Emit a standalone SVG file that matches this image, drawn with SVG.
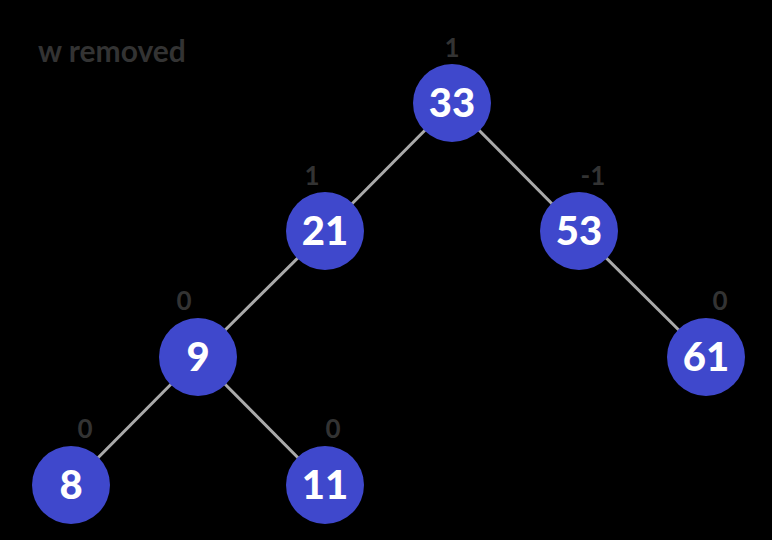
<svg xmlns="http://www.w3.org/2000/svg" width="772" height="540" viewBox="0 0 772 540">
<style>
.n{fill:#3f48cc}
.t{fill:#fff;font-family:Lato,"Liberation Sans",sans-serif;font-weight:900;font-size:40px;text-anchor:middle}
.b{fill:#333;font-family:Lato,"Liberation Sans",sans-serif;font-weight:700;font-size:26px;text-anchor:middle}
.e line{stroke:#aaa;stroke-width:3}
</style>
<rect width="772" height="540" fill="#000"/>
<text x="38" y="62" style="fill:#333;font-family:Lato,'Liberation Sans',sans-serif;font-weight:700;font-size:30px">w removed</text>
<g class="e" id="edges">
<line x1="452" y1="103" x2="325" y2="231"/>
<line x1="452" y1="103" x2="579" y2="231"/>
<line x1="325" y1="231" x2="198" y2="357"/>
<line x1="579" y1="231" x2="706" y2="357"/>
<line x1="198" y1="357" x2="71" y2="485"/>
<line x1="198" y1="357" x2="325" y2="485"/>
</g>
<g id="n33"><circle class="n" cx="452" cy="103" r="39"/><text class="t" x="452" y="117">33</text><text class="b" x="452" y="57">1</text></g>
<g id="n21"><circle class="n" cx="325" cy="231" r="39"/><text class="t" x="325" y="245">21</text><text class="b" x="312" y="185">1</text></g>
<g id="n53"><circle class="n" cx="579" cy="231" r="39"/><text class="t" x="579" y="245">53</text><text class="b" x="593" y="185">-1</text></g>
<g id="n9"><circle class="n" cx="198" cy="357" r="39"/><text class="t" x="198" y="371">9</text><text class="b" x="184" y="310">0</text></g>
<g id="n61"><circle class="n" cx="706" cy="357" r="39"/><text class="t" x="706" y="371">61</text><text class="b" x="720" y="310">0</text></g>
<g id="n8"><circle class="n" cx="71" cy="485" r="39"/><text class="t" x="71" y="499">8</text><text class="b" x="85" y="438">0</text></g>
<g id="n11"><circle class="n" cx="325" cy="485" r="39"/><text class="t" x="325" y="499">11</text><text class="b" x="333" y="438">0</text></g>
</svg>
